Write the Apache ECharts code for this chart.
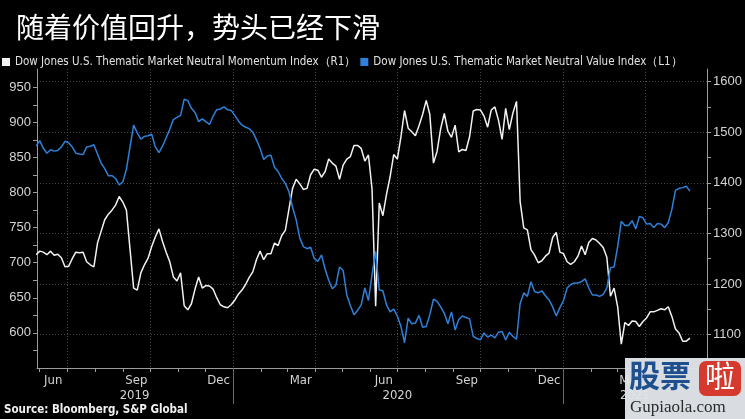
<!DOCTYPE html>
<html><head><meta charset="utf-8">
<script src="https://cdn.jsdelivr.net/npm/echarts@6/dist/echarts.min.js"></script>
<style>html,body{margin:0;padding:0;background:#000;}#c{width:745px;height:419px;}</style>
</head><body><div id="c"></div>
<script>
const titleText = '随着价值回升，势头已经下滑';
const sourceText = 'Source: Bloomberg, S&P Global';
const momentumName = 'Dow Jones U.S. Thematic Market Neutral Momentum Index（R1）';
const valueName = 'Dow Jones U.S. Thematic Market Neutral Value Index（L1）';

// sample dates: one reading every 4 calendar days starting 2019-05-28
const startDate = '2019-05-28';
const stepDays = 4;

// Momentum index (white, right axis R1)
const momentum = [1258,1265,1263,1258,1265,1257,1259,1252,1234,1235,
1250,1263,1262,1263,1244,1238,1234,1281,1304,1327,
1338,1346,1356,1373,1362,1346,1269,1192,1188,1222,
1238,1251,1274,1293,1309,1284,1263,1244,1214,1206,
1222,1157,1149,1161,1190,1214,1192,1197,1196,1190,
1173,1159,1155,1153,1159,1168,1180,1188,1199,1213,
1224,1248,1265,1248,1260,1260,1281,1276,1296,1306,
1348,1389,1407,1398,1387,1389,1416,1427,1425,1411,
1422,1447,1439,1433,1407,1435,1447,1452,1474,1474,
1468,1443,1455,1388,1156,1360,1335,1377,1412,1456,
1447,1491,1543,1508,1501,1493,1513,1535,1563,1535,
1439,1462,1507,1537,1502,1490,1514,1461,1466,1464,
1491,1542,1545,1544,1532,1510,1544,1550,1524,1486,
1547,1505,1538,1561,1363,1311,1307,1268,1257,1242,
1246,1255,1261,1292,1302,1263,1260,1244,1239,1244,
1255,1275,1258,1282,1290,1287,1280,1272,1253,1176,
1192,1155,1081,1124,1118,1127,1126,1116,1126,1133,
1145,1145,1148,1151,1149,1155,1136,1111,1103,1087,
1087,1093];

// Value index (blue, left axis L1)
const valueIdx = [866,874,863,856,861,859,860,865,873,871,
865,856,855,854,865,866,868,855,842,834,
824,824,820,811,815,833,865,896,885,876,
880,881,883,865,857,866,878,890,904,907,
910,933,931,920,914,901,905,901,897,909,
918,919,922,918,917,910,902,896,893,891,
886,875,863,847,852,853,836,830,820,813,
801,779,761,735,723,720,722,706,702,711,
691,675,663,668,694,689,654,639,626,632,
640,664,646,683,716,661,660,640,630,634,
624,609,586,621,613,614,625,608,609,626,
648,645,637,628,613,630,604,619,624,622,
620,595,592,590,600,594,597,593,601,602,
590,601,595,591,642,657,652,673,659,657,
660,653,647,637,624,636,646,664,669,671,
671,673,677,664,654,654,652,655,664,693,
694,723,759,753,753,760,748,766,764,755,
756,750,756,755,750,757,776,803,806,807,
809,802];

const axisMinDate = '2019-05-29';
const axisMaxDate = '2021-06-09';
const monthLabelDates = ['2019-06-16','2019-09-16','2019-12-16','2020-03-16','2020-06-16','2020-09-16','2020-12-16','2021-03-16'];
const monthTickDates = ['2019-06-01','2019-07-01','2019-08-01','2019-09-01','2019-10-01','2019-11-01','2019-12-01',
'2020-01-01','2020-02-01','2020-03-01','2020-04-01','2020-05-01','2020-06-01','2020-07-01','2020-08-01','2020-09-01','2020-10-01','2020-11-01','2020-12-01',
'2021-01-01','2021-02-01','2021-03-01','2021-04-01','2021-05-01','2021-06-01'];
const quarterGridDates = ['2019-07-01','2019-10-01','2020-01-01','2020-04-01','2020-07-01','2020-10-01','2021-01-01','2021-04-01'];
const yearLabelDates = ['2019-09-14','2020-07-01','2021-03-21'];
const yearTickDates = ['2020-01-01','2021-01-01'];
const monthNames = ['Jan','Feb','Mar','Apr','May','Jun','Jul','Aug','Sep','Oct','Nov','Dec'];
const leftLabels = [600,650,700,750,800,850,900,950];
const leftTicks = [575,600,625,650,675,700,725,750,775,800,825,850,875,900,925,950];
const rightLabels = [1100,1200,1300,1400,1500,1600];
const rightTicks = [1050,1100,1150,1200,1250,1300,1350,1400,1450,1500,1550,1600];

const ts = s => Date.parse(s + 'T00:00:00Z');
const startTs = ts(startDate);
const dates = momentum.map((_, i) => startTs + i * stepDays * 86400000);

const axisColor = '#9c9c9c';
const labelColor = '#d4d4d4';
const gridColor = '#474747';
const narrow = '"DejaVu Sans Condensed","Liberation Sans",Arial,sans-serif';
const regular = '"Liberation Sans",Arial,sans-serif';
const tMin = ts(axisMinDate), tMax = ts(axisMaxDate);

const chart = echarts.init(document.getElementById('c'), null, {renderer: 'canvas'});
chart.setOption({
  backgroundColor: '#000',
  animation: false,
  title: [
    {text: titleText, left: 16, top: 13, padding: 0,
     textStyle: {color: '#ffffff', fontSize: 28, fontWeight: 'normal', fontFamily: '"Noto Sans CJK SC",sans-serif'}},
    {text: sourceText, left: 4, top: 404, padding: 0,
     textStyle: {color: '#f0f0f0', fontSize: 11.5, fontWeight: 'bold', fontFamily: narrow}}
  ],
  legend: {
    left: 2, top: 56, width: 740, padding: 0, itemWidth: 8, itemHeight: 8, itemGap: 4, icon: 'rect',
    textStyle: {color: '#e2e2e2', fontSize: 11.5, fontFamily: narrow},
    data: [momentumName, valueName]
  },
  grid: {left: 37, right: 37, top: 69, bottom: 51, containLabel: false},
  xAxis: [
    {type: 'value', min: tMin, max: tMax, position: 'bottom',
     axisLine: {show: true, onZero: false, lineStyle: {color: axisColor, width: 1}},
     axisTick: {show: true, customValues: monthTickDates.map(ts), length: 4, lineStyle: {color: axisColor}},
     axisLabel: {customValues: monthLabelDates.map(ts), margin: 6, color: labelColor, fontSize: 13, fontFamily: narrow,
       formatter: v => monthNames[new Date(v).getUTCMonth()]},
     splitLine: {show: false}},
    {type: 'value', min: tMin, max: tMax, position: 'bottom',
     axisLine: {show: false, onZero: false},
     axisTick: {show: true, customValues: yearTickDates.map(ts), length: 36, lineStyle: {color: '#6a6a6a'}},
     axisLabel: {customValues: yearLabelDates.map(ts), margin: 21, color: labelColor, fontSize: 13, fontFamily: narrow,
       formatter: v => String(new Date(v).getUTCFullYear())},
     splitLine: {show: false}},
    {type: 'value', min: tMin, max: tMax, position: 'bottom',
     axisLine: {show: false, onZero: false},
     axisTick: {show: false, customValues: quarterGridDates.map(ts)},
     axisLabel: {show: false},
     splitLine: {show: true, lineStyle: {color: gridColor, type: [1, 2], width: 1}}}
  ],
  yAxis: [
    {type: 'value', position: 'left', min: 550, max: 976,
     axisLine: {show: true, lineStyle: {color: axisColor}},
     axisTick: {show: true, customValues: leftTicks, length: 4, lineStyle: {color: axisColor}},
     axisLabel: {customValues: leftLabels, margin: 6, color: labelColor, fontSize: 13, fontFamily: regular,
       formatter: v => String(v)},
     splitLine: {show: false}},
    {type: 'value', position: 'right', min: 1034, max: 1625,
     axisLine: {show: true, lineStyle: {color: axisColor}},
     axisTick: {show: true, customValues: rightTicks, length: 4, lineStyle: {color: axisColor}},
     axisLabel: {customValues: rightLabels, margin: 6, color: labelColor, fontSize: 13, fontFamily: regular,
       formatter: v => String(v)},
     splitLine: {show: false}},
    {type: 'value', position: 'right', min: 1034, max: 1625,
     axisLine: {show: false},
     axisTick: {show: false, customValues: rightLabels},
     axisLabel: {show: false},
     splitLine: {show: true, lineStyle: {color: gridColor, type: [1, 2], width: 1}}}
  ],
  series: [
    {name: momentumName, type: 'line', xAxisIndex: 0, yAxisIndex: 1, showSymbol: false, symbol: 'none',
     data: dates.map((d, i) => [d, momentum[i]]),
     lineStyle: {color: '#f2f2f2', width: 1.5}, itemStyle: {color: '#f2f2f2'}},
    {name: valueName, type: 'line', xAxisIndex: 0, yAxisIndex: 0, showSymbol: false, symbol: 'none',
     data: dates.map((d, i) => [d, valueIdx[i]]),
     lineStyle: {color: '#2f80d8', width: 1.5}, itemStyle: {color: '#2f80d8'}}
  ],
  graphic: [
    {type: 'rect', z: 100, shape: {x: 625, y: 358, width: 120, height: 61}, style: {fill: 'rgba(226,230,234,0.96)'}},
    {type: 'text', z: 101, x: 629, y: 360, style: {text: '股票', font: 'bold 31px "Noto Sans CJK SC"', fill: '#1e4f8e'}},
    {type: 'rect', z: 101, shape: {x: 699, y: 361, width: 42, height: 35, r: 7}, style: {fill: '#d63a2e'}},
    {type: 'text', z: 102, x: 705, y: 361, style: {text: '啦', font: '30px "Noto Sans CJK SC"', fill: '#ffffff'}},
    {type: 'text', z: 101, x: 630, y: 399, style: {text: 'Gupiaola.com', font: '17px "Liberation Serif",serif', fill: '#2a2a2a'}}
  ]
});
</script>
</body></html>
